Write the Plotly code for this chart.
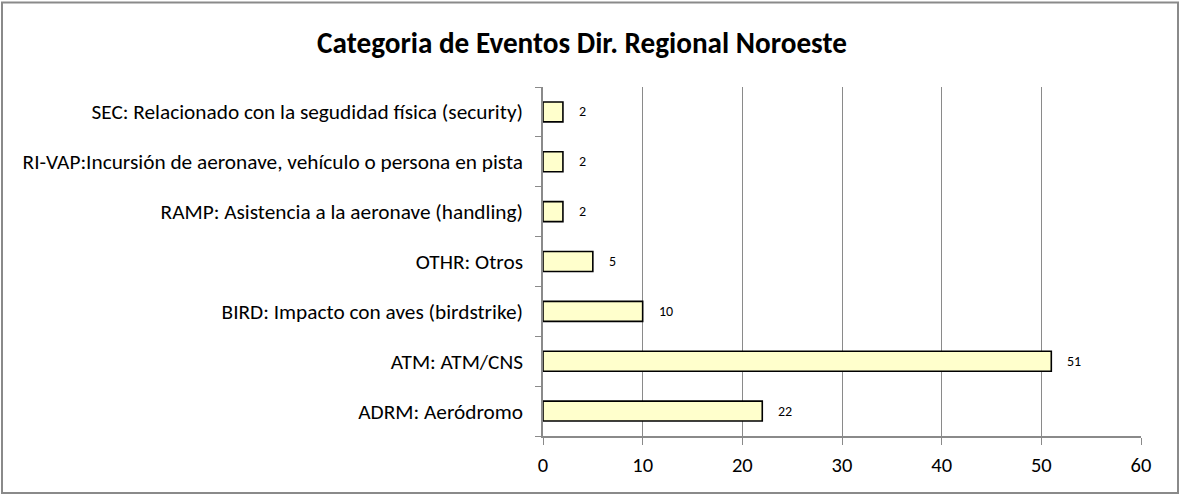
import plotly.graph_objects as go

categories = [
    "ADRM: Aeródromo",
    "ATM: ATM/CNS",
    "BIRD: Impacto con aves (birdstrike)",
    "OTHR: Otros",
    "RAMP: Asistencia a la aeronave (handling)",
    "RI-VAP:Incursión de aeronave, vehículo o persona en pista",
    "SEC: Relacionado con la segudidad física (security)",
]
values = [22, 51, 10, 5, 2, 2, 2]
x_ticks = [0, 10, 20, 30, 40, 50, 60]
title_text = "Categoria de Eventos Dir. Regional Noroeste"

FONT = "Carlito, Lato, Calibri, 'Open Sans', sans-serif"
GRAY = "#8a8a8a"

fig = go.Figure()
fig.add_trace(go.Bar(
    x=values, y=categories, orientation="h",
    marker=dict(color="#FFFFCC", line=dict(color="black", width=1.6)),
    width=0.40,
    hoverinfo="x+y",
))

for v, c in zip(values, categories):
    fig.add_annotation(x=v, y=c, text=str(v), showarrow=False,
                       xanchor="left", xshift=14,
                       font=dict(family=FONT, size=14, color="black"))

L, R, T, B = 543, 1141, 87, 436
W, H = 1180, 496
pw, ph = R - L, B - T

def px(x):
    return (x - L) / pw

def py(y):
    return (B - y) / ph

fig.add_shape(type="rect", xref="paper", yref="paper",
              x0=px(2), x1=px(1178), y0=py(493), y1=py(2.5),
              line=dict(color=GRAY, width=2), fillcolor="rgba(0,0,0,0)", layer="below")

fig.update_layout(
    width=W, height=H,
    margin=dict(l=L, r=W - R, t=T, b=H - B, pad=0),
    paper_bgcolor="white", plot_bgcolor="white",
    showlegend=False,
    font=dict(family=FONT, size=21.3, color="black"),
    title=dict(text="<b>" + title_text + "</b>", x=582 / W, xanchor="center",
               xref="container", y=1 - 43 / H, yanchor="middle", yref="container",
               font=dict(family=FONT, size=29.2, color="black")),
    xaxis=dict(range=[0, 60], tickvals=x_ticks, showgrid=True, gridcolor=GRAY, gridwidth=1.3,
               showline=True, linecolor=GRAY, linewidth=1.5, ticks="outside", ticklen=7,
               tickcolor=GRAY, tickwidth=1.3, zeroline=False, fixedrange=True,
               ticklabelstandoff=3,
               tickfont=dict(family=FONT, size=20.5)),
    yaxis=dict(categoryorder="array", categoryarray=categories, showline=True,
               linecolor=GRAY, linewidth=1.5, ticks="outside", ticklen=6, tickcolor=GRAY,
               tickwidth=1.3, tickson="boundaries", showgrid=False, ticklabelstandoff=14,
               tickfont=dict(family=FONT, size=21.3), fixedrange=True),
)

fig.write_html("out.html", config={"displayModeBar": False},
               post_script="document.body.style.margin='0';document.body.style.padding='0';")
